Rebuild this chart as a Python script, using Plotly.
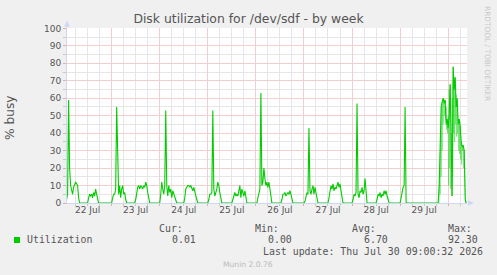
import plotly.graph_objects as go
import pandas as pd

# ---- data: 30-minute averages of % busy, one list per calendar day ----
day_22 = [2, 5, 59, 20, 10, 7, 5, 9, 11, 12, 11, 10, 3,        # from 01:30
          0, 0, 0, 0, 0, 0, 0, 0, 0,
          3, 5, 4, 5, 3, 6, 4, 8, 5, 3,
          0, 0, 0, 0, 0, 0, 0, 0, 0, 0, 0, 0, 0]
day_23 = [0, 3, 5, 5, 8, 55, 15, 5, 10, 3, 8, 10, 5, 6, 2,
          0, 0, 0, 0, 0, 0, 0, 0, 0,
          2, 6, 9, 10, 8, 10, 9, 8, 10, 9, 12, 10, 6, 2,
          0, 0, 0, 0, 0, 0, 0, 0, 0, 0]
day_24 = [0, 5, 12, 8, 5, 10, 53, 10, 4, 10, 6, 8, 3, 7, 5, 3, 1,
          0, 0, 0, 0, 0, 0, 0, 0,
          3, 8, 9, 10, 10, 9, 10, 8, 7, 9, 6, 4, 2,
          0, 0, 0, 0, 0, 0, 0, 0, 0, 0]
day_25 = [0, 2, 5, 5, 6, 53, 8, 4, 6, 8, 12, 10, 6, 2,
          0, 0, 0, 0, 0, 0, 0, 0, 0, 0, 0,
          2, 5, 6, 4, 5, 4, 7, 10, 3, 8, 6, 4, 7, 2,
          0, 0, 0, 0, 0, 0, 0, 0, 0]
day_26 = [0, 0, 3, 7, 8, 63, 10, 12, 20, 14, 10, 12, 9, 12, 8, 4,
          0, 0, 0, 0, 0, 0, 0, 0, 0, 0,
          2, 5, 5, 6, 4, 5, 6, 5, 7, 5, 3,
          0, 0, 0, 0, 0, 0, 0, 0, 0, 0, 0]
day_27 = [0, 1, 5, 6, 5, 43, 7, 5, 8, 10, 5, 9, 6, 3,
          0, 0, 0, 0, 0, 0, 0, 0, 0, 0, 0,
          3, 8, 10, 8, 11, 7, 9, 8, 10, 12, 9, 11, 7, 3,
          0, 0, 0, 0, 0, 0, 0, 0, 0]
day_28 = [0, 2, 5, 4, 6, 57, 5, 3, 7, 6, 9, 5, 7, 14, 4,
          0, 0, 0, 0, 0, 0, 0, 0, 0, 0,
          2, 5, 4, 6, 3, 5, 4, 7, 5, 7, 4, 2,
          0, 0, 0, 0, 0, 0, 0, 0, 0, 0, 0]
day_29 = [0, 3, 7, 9, 10, 55,
          0, 0, 0, 0, 0, 0, 0, 0, 0, 0, 0, 0, 0, 0, 0, 0, 0,
          0, 0, 0, 0, 0, 0, 0, 0, 0, 0, 0, 0, 0, 0, 0, 0,
          10, 40, 55, 58, 60, 57, 59, 45, 48]
day_30 = [43, 50, 68, 40, 4, 78, 65, 72, 55, 60, 45, 48, 44, 35, 32, 33, 30, 2, 0.01]  # to 09:00

# finer (15-minute) samples of the busy period 29 Jul 19:30 - 30 Jul 08:45, drawn faintly
busy_fine = [0, 20, 5, 40, 15, 55, 30, 58, 45, 60,
             57, 50, 59, 48, 55, 42, 48, 40,
             50, 10, 65, 20, 68, 8, 40, 4, 60, 15,
             78, 40, 70, 35, 72, 45, 62, 38, 58, 40,
             45, 30, 48, 28, 44, 25, 35, 22, 32, 30,
             33, 20, 30, 10, 2, 0]

values = day_22 + day_23 + day_24 + day_25 + day_26 + day_27 + day_28 + day_29 + day_30
times = pd.date_range("2026-07-22 01:30", periods=len(values), freq="30min")
fine_times = pd.date_range("2026-07-29 19:30", periods=len(busy_fine), freq="15min")

day_labels = ["22 Jul", "23 Jul", "24 Jul", "25 Jul", "26 Jul", "27 Jul", "28 Jul", "29 Jul"]

title_text = "Disk utilization for /dev/sdf - by week"
y_title = "% busy"
series_name = "Utilization"
stat_labels = ["Cur:", "Min:", "Avg:", "Max:"]
stat_values = ["0.01", "0.00", "6.70", "92.30"]
last_update = "Last update: Thu Jul 30 09:00:32 2026"
footer = "Munin 2.0.76"
watermark = "RRDTOOL / TOBI OETIKER"

W, H = 497, 275
L, R, T, B = 67, 30, 28, 72
PW, PH = W - L - R, H - T - B
X_RANGE = ["2026-07-22 01:42", "2026-07-30 09:24"]

def pxx(x):
    return (x - L) / PW

def pxy(y):
    return (H - B - y) / PH

FONT = "DejaVu Sans"
MONO = "DejaVu Sans Mono"
TXT = "#555555"
MGRID = "#f3cece"
GRID = "#e6e6e6"
MTICK = "#e8a8a8"
TICK = "#c8c8c8"
AXIS = "#CFD6F8"
GREEN = "#00CC00"

midnights = list(pd.date_range("2026-07-23", "2026-07-30", freq="D"))
label_pos = list(pd.date_range("2026-07-22 12:00", periods=len(day_labels), freq="D"))
x_minor = [d + pd.Timedelta(hours=h) for d in pd.date_range("2026-07-22", "2026-07-30", freq="D")
           for h in (6, 12, 18)]
y_minor = [5, 15, 25, 35, 45, 55, 65, 75, 85, 95]

fig = go.Figure()
fig.add_trace(go.Scatter(x=fine_times, y=busy_fine, mode="lines",
                         line=dict(color="rgba(0,204,0,0.35)", width=1),
                         showlegend=False, hoverinfo="skip"))
fig.add_trace(go.Scatter(x=times, y=values, mode="lines",
                         line=dict(color=GREEN, width=1.1), name=series_name,
                         showlegend=False, hoverinfo="skip"))
fig.add_trace(go.Scatter(x=[], y=[], xaxis="x2", showlegend=False, hoverinfo="skip"))

fig.update_layout(
    width=W, height=H,
    margin=dict(l=L, r=R, t=T, b=B, pad=0),
    paper_bgcolor="#F0F0F0", plot_bgcolor="#FFFFFF",
    showlegend=False,
    title=dict(text=title_text, x=0.5, xanchor="center", y=1 - 19 / H, yanchor="middle",
               font=dict(family=FONT, size=12.4, color=TXT)),
    font=dict(family=FONT, size=9, color=TXT),
    xaxis=dict(
        type="date", range=X_RANGE,
        tickmode="array", tickvals=midnights, showticklabels=False,
        showgrid=True, gridcolor=MGRID, gridwidth=1,
        ticks="outside", ticklen=2, tickcolor=MTICK,
        minor=dict(tickmode="array", tickvals=x_minor, showgrid=True, gridcolor=GRID,
                   ticks="outside", ticklen=2, tickcolor=TICK),
        showline=True, linecolor=AXIS, linewidth=1, zeroline=False,
    ),
    xaxis2=dict(
        type="date", range=X_RANGE, overlaying="x", side="bottom", anchor="y",
        tickmode="array", tickvals=label_pos, ticktext=day_labels,
        showgrid=False, ticks="", zeroline=False, showline=False,
        tickfont=dict(family=FONT, size=9, color=TXT),
    ),
    yaxis=dict(
        range=[0, 100.2], tick0=0, dtick=10,
        showgrid=True, gridcolor=MGRID, gridwidth=1,
        ticks="outside", ticklen=3, tickcolor=MTICK,
        tickfont=dict(family=FONT, size=9, color=TXT),
        minor=dict(tickmode="array", tickvals=y_minor, showgrid=True, gridcolor=GRID,
                   ticks="outside", ticklen=3, tickcolor=TICK),
        showline=True, linecolor=AXIS, linewidth=1, zeroline=False,
    ),
)

shapes = []
# axis arrows
shapes.append(dict(type="path", xref="paper", yref="paper",
                   path=f"M {pxx(64.2)} {pxy(26.5)} L {pxx(69.8)} {pxy(26.5)} L {pxx(67)} {pxy(20.5)} Z",
                   fillcolor=AXIS, line=dict(width=0)))
shapes.append(dict(type="line", xref="paper", yref="paper",
                   x0=pxx(67), x1=pxx(67), y0=pxy(28), y1=pxy(26), line=dict(color=AXIS, width=1)))
shapes.append(dict(type="path", xref="paper", yref="paper",
                   path=f"M {pxx(468)} {pxy(200.2)} L {pxx(468)} {pxy(205.8)} L {pxx(474)} {pxy(203)} Z",
                   fillcolor=AXIS, line=dict(width=0)))
# legend swatch
shapes.append(dict(type="rect", xref="paper", yref="paper",
                   x0=pxx(14), x1=pxx(20), y0=pxy(243), y1=pxy(237),
                   fillcolor=GREEN, line=dict(width=0)))
fig.update_layout(shapes=shapes)

ann = []

def text(x, y, s, size=9.9, family=MONO, color=TXT, xanchor="left", angle=0):
    ann.append(dict(x=pxx(x), y=pxy(y), xref="paper", yref="paper", text=s,
                    showarrow=False, xanchor=xanchor, yanchor="middle", textangle=angle,
                    borderpad=0, font=dict(family=family, size=size, color=color)))

text(10, 118, y_title, size=12.2, family=FONT, xanchor="center", angle=-90)
text(487.5, 53.5, watermark, size=7.4, family=FONT, color="#c8c8c8", xanchor="center", angle=90)
for lab, xl in zip(stat_labels, [158.3, 254.3, 351.0, 446.7]):
    text(xl, 228.3, lab)
text(26.3, 239.5, series_name)
for val, xl in zip(stat_values, [170.7, 266.7, 362.7, 447.3]):
    text(xl, 239.5, val)
text(261.7, 251, last_update)
text(248, 264, footer, size=7.6, family=FONT, color="#bbbbbb", xanchor="center")
fig.update_layout(annotations=ann)

fig.write_html("out.html")
